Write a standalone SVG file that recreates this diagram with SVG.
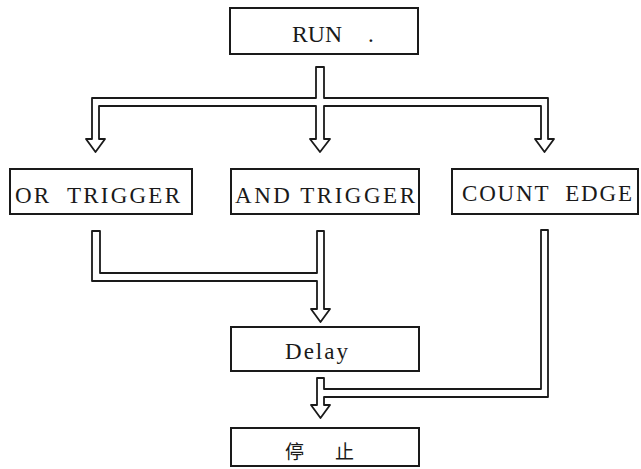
<svg xmlns="http://www.w3.org/2000/svg" width="641" height="469" viewBox="0 0 641 469">
  <style>
    .box { fill: #ffffff; stroke: #1a1a1a; stroke-width: 2; }
    .pipe { fill: #ffffff; stroke: #1a1a1a; stroke-width: 1.8; stroke-linejoin: round; }
    .lbl { font-family: "Liberation Serif", "Times New Roman", serif; font-size: 23px; fill: #1a1a1a; }
    .cjk { font-family: "Noto Sans CJK SC", "Noto Sans CJK JP", sans-serif; font-size: 19px; fill: #1a1a1a; }
  </style>
  <rect width="641" height="469" fill="#ffffff"/>

  <!-- hollow double-line flow connectors -->
  <g id="connectors">
    <!-- RUN fans out to the three trigger modes -->
    <path class="pipe" d="M316,67 H324 V98 H541 V98 H548 V139 H554 L544.5,152 L535,139 H541 V106 H324 V139 H330 L320,152 L310,139 H316 V106 H99 V139 H105 L95.5,152 L86,139 H92 V98 H316 Z"/>
    <!-- OR / AND trigger merge into Delay -->
    <path class="pipe" d="M92,231 H100 V273 H317 V231 H324 V309 H330 L320.5,322 L311,309 H317 V281 H92 Z"/>
    <!-- Delay and COUNT EDGE merge into stop -->
    <path class="pipe" d="M317,378 H324 V389 H541 V230 H548 V397 H324 V405 H330 L320.5,418 L311,405 H317 Z"/>
  </g>

  <g id="run">
    <rect class="box" x="230" y="8" width="188" height="46"/>
    <text class="lbl" x="292" y="42" textLength="50" lengthAdjust="spacingAndGlyphs">RUN</text>
    <text class="lbl" x="368" y="42" font-size="16">.</text>
  </g>

  <g id="or-trigger">
    <rect class="box" x="10" y="169" width="182" height="45"/>
    <text class="lbl" x="15" y="203" textLength="165" lengthAdjust="spacing" xml:space="preserve">OR  TRIGGER</text>
  </g>

  <g id="and-trigger">
    <rect class="box" x="231" y="169" width="188" height="45"/>
    <text class="lbl" x="235" y="203" textLength="180" lengthAdjust="spacing">AND TRIGGER</text>
  </g>

  <g id="count-edge">
    <rect class="box" x="452" y="169" width="186" height="45"/>
    <text class="lbl" x="462" y="201" textLength="170" lengthAdjust="spacing" xml:space="preserve">COUNT  EDGE</text>
  </g>

  <g id="delay">
    <rect class="box" x="231" y="327" width="188" height="44"/>
    <text class="lbl" x="285" y="359" font-size="21" textLength="63" lengthAdjust="spacing">Delay</text>
  </g>

  <g id="stop">
    <rect class="box" x="231" y="428" width="188" height="38"/>
    <text class="cjk" x="285" y="459" textLength="69" lengthAdjust="spacing">停 止</text>
  </g>
</svg>
